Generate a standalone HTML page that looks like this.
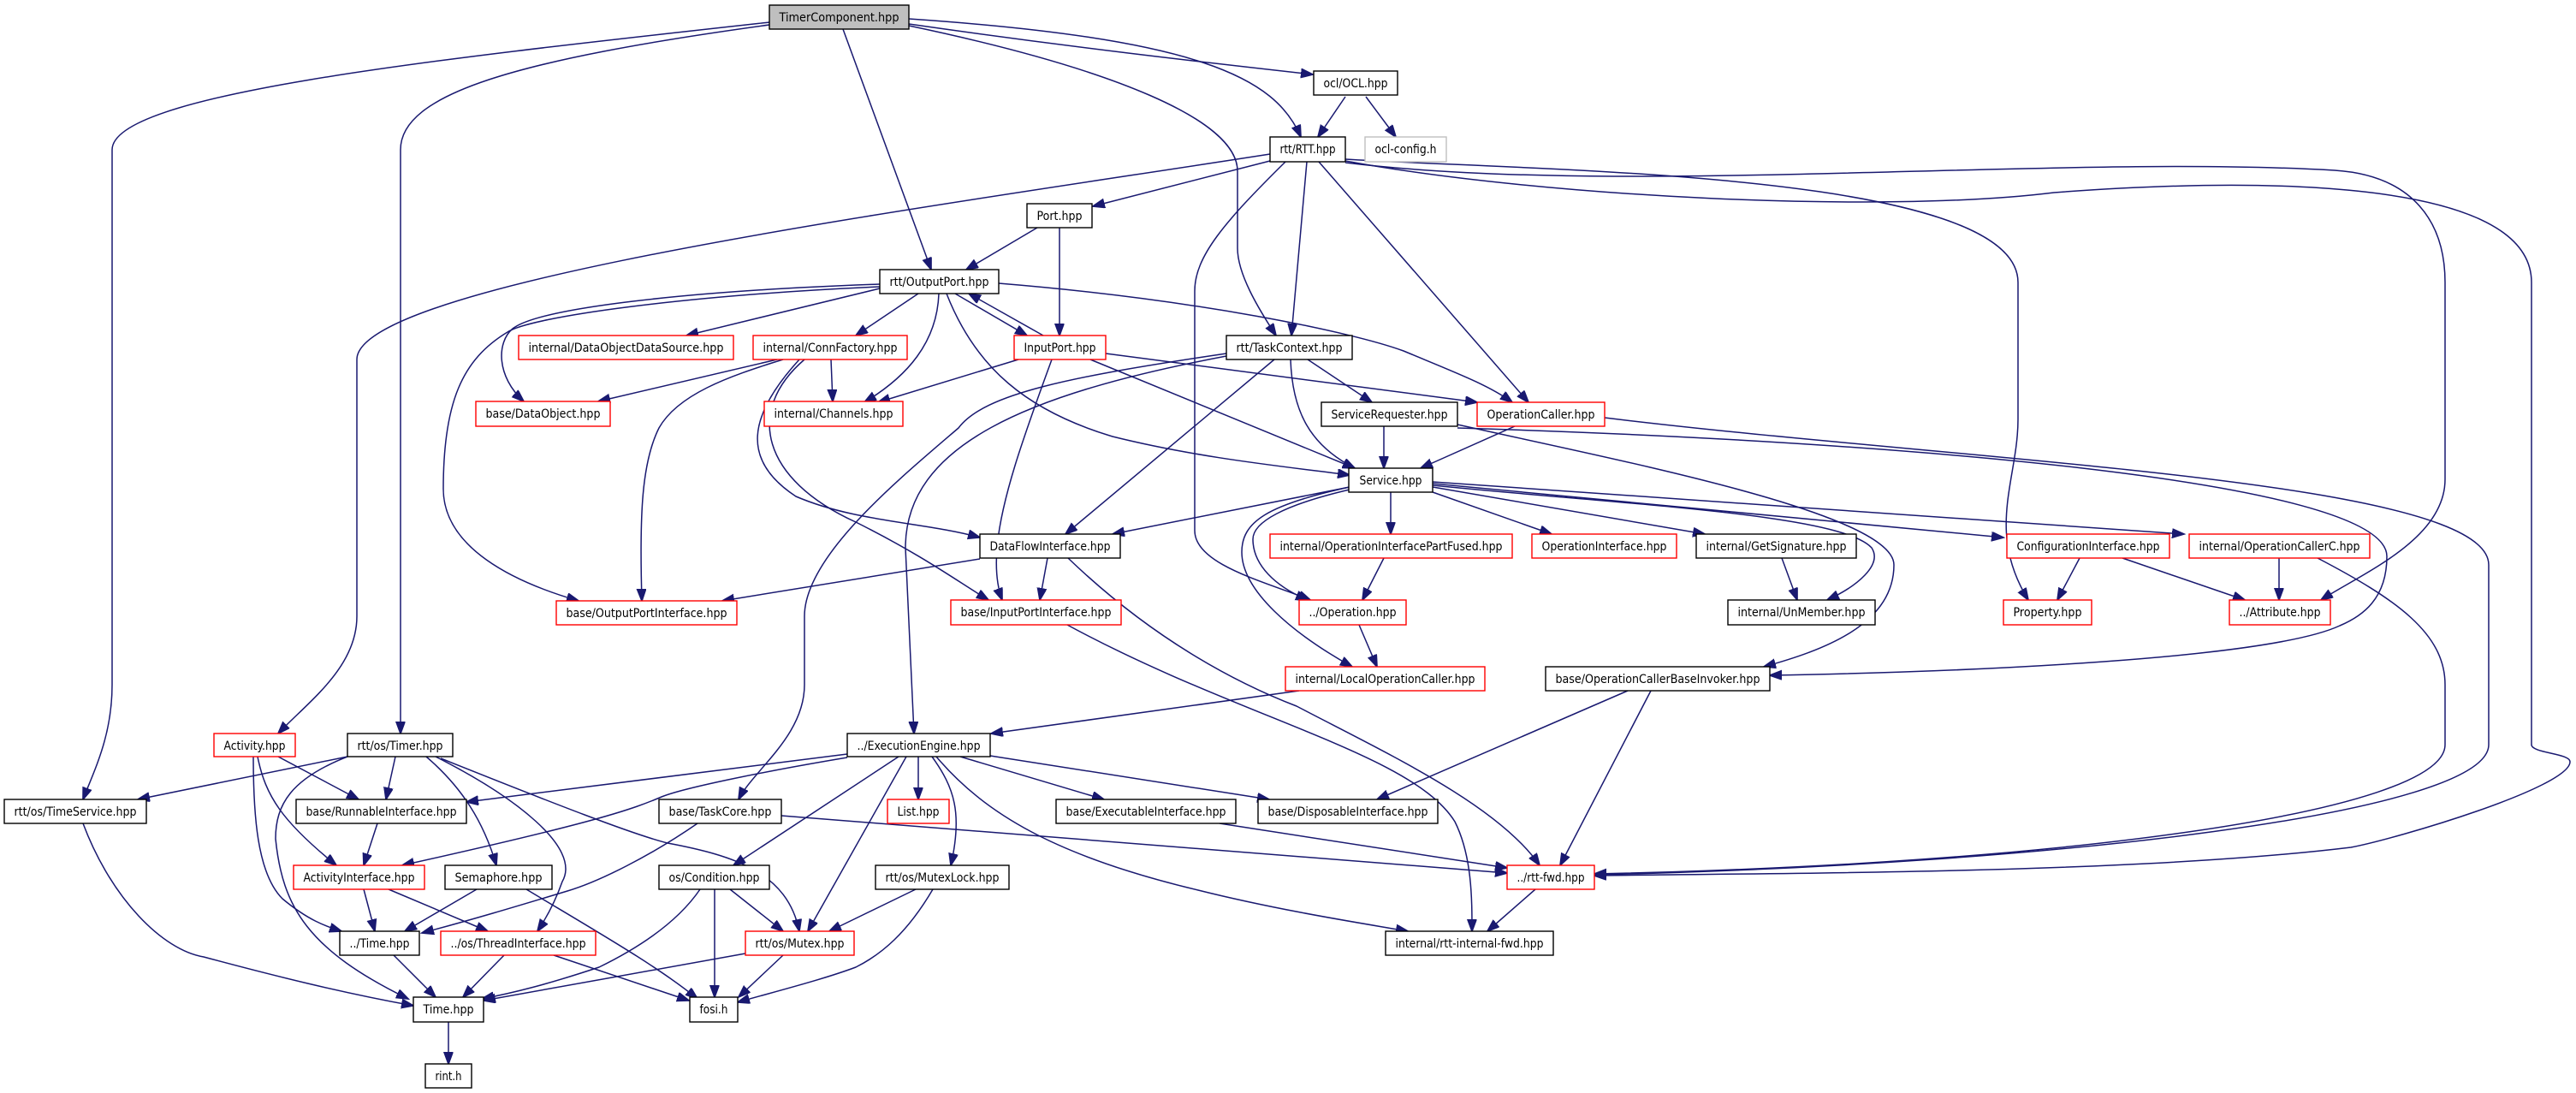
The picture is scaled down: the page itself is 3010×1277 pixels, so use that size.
<!DOCTYPE html>
<html><head><meta charset="utf-8"><style>
html,body{margin:0;padding:0;background:#fff;}
svg{display:block;}
text{font-family:"DejaVu Sans","Liberation Sans",sans-serif;font-size:14px;fill:#000;text-anchor:middle;}
.e{fill:none;stroke:#191970;stroke-width:1.5;marker-end:url(#a);}
.n rect{fill:#fff;stroke:#000;stroke-width:1.4;}
.r rect{fill:#fff;stroke:#ff0000;stroke-width:1.4;}
</style></head><body>
<svg width="3010" height="1277" viewBox="0 0 3010 1277" xmlns="http://www.w3.org/2000/svg">
<defs><marker id="a" markerUnits="userSpaceOnUse" markerWidth="16" markerHeight="12" refX="14" refY="5.5" orient="auto"><path d="M0,0 L15,5.5 L0,11 z" fill="#191970" stroke="#191970"/></marker></defs>
<g>
<path class="e" d="M899,26 C500,70 131,110 131,175 L131,800 C131,860 110,900 97,934"/>
<path class="e" d="M899,29 C600,70 468,110 468,175 L468,857"/>
<path class="e" d="M1484,180 C1100,240 417,330 417,420 L417,720 C417,780 360,820 325,857"/>
<path class="e" d="M985,34 L1088,315"/>
<path class="e" d="M1062,28 C1250,55 1400,72 1534,87"/>
<path class="e" d="M1062,22 C1400,45 1490,90 1520,160"/>
<path class="e" d="M1062,30 C1300,80 1446,140 1446,200 L1446,290 C1446,320 1470,360 1491,392"/>
<path class="e" d="M1572,113 L1540,160"/>
<path class="e" d="M1596,113 L1631,160"/>
<path class="e" d="M1484,188 L1277,241"/>
<path class="e" d="M1502,189 C1430,260 1396,300 1396,340 L1396,620 C1396,660 1480,680 1531,701"/>
<path class="e" d="M1527,189 L1509,392"/>
<path class="e" d="M1541,189 L1786,470"/>
<path class="e" d="M1572,186 C1800,200 2358,200 2358,330 L2358,490 C2358,560 2320,620 2370,701"/>
<path class="e" d="M1572,190 C1900,230 2400,180 2728,199 C2820,205 2857,260 2857,330 L2857,560 C2857,630 2760,670 2712,701"/>
<path class="e" d="M1572,188 C1800,230 2200,250 2400,225 C2600,210 2958,200 2958,330 L2958,870 C2958,880 3003,880 3003,890 C3003,920 2800,980 2747,990 C2500,1020 2100,1020 1863,1023"/>
<path class="e" d="M2708,652 C2800,700 2857,740 2857,800 L2857,870 C2857,950 2400,1010 1863,1021"/>
<path class="e" d="M1875,488 C2300,540 2908,560 2908,660 L2908,870 C2908,950 2400,1010 1863,1022"/>
<path class="e" d="M1703,496 C1900,540 2213,600 2213,660 C2213,730 2130,760 2061,779"/>
<path class="e" d="M1703,500 C2200,515 2789,560 2789,650 C2789,700 2760,720 2734,731 C2650,770 2300,785 2068,789"/>
<path class="e" d="M1212,266 L1129,315"/>
<path class="e" d="M1238,266 L1238,392"/>
<path class="e" d="M1028,337 L802,392"/>
<path class="e" d="M1073,343 L1000,392"/>
<path class="e" d="M1097,343 C1095,400 1060,440 1010,470"/>
<path class="e" d="M1116,343 L1200,392"/>
<path class="e" d="M1219,392 L1132,343"/>
<path class="e" d="M1106,343 C1140,430 1200,480 1300,510 C1400,535 1500,545 1577,555"/>
<path class="e" d="M1167,331 C1400,350 1580,388 1640,410 C1700,435 1740,450 1767,470"/>
<path class="e" d="M1028,332 C800,340 630,360 599,384 C580,400 580,440 612,469"/>
<path class="e" d="M1028,335 C800,345 620,370 593,388 C540,420 518,470 518,571 C518,640 600,680 676,702"/>
<path class="e" d="M908,420 L699,469"/>
<path class="e" d="M971,420 L973,469"/>
<path class="e" d="M915,420 C850,440 792,461 770,500 C750,540 747,600 750,702"/>
<path class="e" d="M934,420 C870,490 869,540 930,580 C1000,610 1080,610 1145,628"/>
<path class="e" d="M940,420 C870,480 890,560 1000,610 C1080,650 1120,680 1155,701"/>
<path class="e" d="M1190,420 L1026,470"/>
<path class="e" d="M1292,413 L1726,470"/>
<path class="e" d="M1274,420 L1583,547"/>
<path class="e" d="M1229,420 C1200,500 1170,580 1165,640 C1163,665 1165,685 1171,701"/>
<path class="e" d="M1528,420 L1603,470"/>
<path class="e" d="M1508,420 C1510,480 1530,520 1583,547"/>
<path class="e" d="M1489,420 L1245,624"/>
<path class="e" d="M1433,413 C1250,440 1150,460 1120,500 C1050,560 940,650 940,720 L940,800 C940,860 880,900 863,934"/>
<path class="e" d="M1433,416 C1200,460 1058,520 1058,640 L1068,857"/>
<path class="e" d="M1617,498 L1617,547"/>
<path class="e" d="M1770,498 L1660,547"/>
<path class="e" d="M1577,569 L1300,624"/>
<path class="e" d="M1625,575 L1625,624"/>
<path class="e" d="M1674,575 L1813,624"/>
<path class="e" d="M1674,569 L1992,624"/>
<path class="e" d="M1674,565 L2341,628"/>
<path class="e" d="M1674,563 L2552,624"/>
<path class="e" d="M1674,567 C1900,590 2150,600 2187,640 C2200,660 2170,685 2135,701"/>
<path class="e" d="M1577,572 C1500,590 1464,610 1464,630 C1464,660 1490,685 1528,701"/>
<path class="e" d="M1577,569 C1480,590 1451,610 1451,645 C1451,690 1510,740 1580,779"/>
<path class="e" d="M1617,652 L1592,701"/>
<path class="e" d="M1588,730 L1609,779"/>
<path class="e" d="M1518,807 L1158,857"/>
<path class="e" d="M1145,653 L844,702"/>
<path class="e" d="M1224,652 L1215,701"/>
<path class="e" d="M1248,652 C1350,750 1450,800 1515,825 C1620,880 1750,940 1799,1011"/>
<path class="e" d="M1247,730 C1450,840 1650,880 1700,960 C1720,1000 1720,1050 1720,1088"/>
<path class="e" d="M1902,807 L1609,934"/>
<path class="e" d="M1929,807 L1823,1011"/>
<path class="e" d="M1073,884 L1073,934"/>
<path class="e" d="M1122,884 L1290,934"/>
<path class="e" d="M1157,883 L1483,934"/>
<path class="e" d="M1089,884 C1115,920 1125,950 1111,1011"/>
<path class="e" d="M1094,884 C1150,950 1232,1000 1400,1040 C1500,1065 1600,1080 1645,1088"/>
<path class="e" d="M990,881 L545,937"/>
<path class="e" d="M990,885 C900,900 800,920 773,931 C740,945 700,960 470,1011"/>
<path class="e" d="M1050,884 L857,1011"/>
<path class="e" d="M1059,884 L944,1088"/>
<path class="e" d="M913,953 L1761,1020"/>
<path class="e" d="M815,962 C760,1000 700,1030 663,1041 C600,1060 550,1075 493,1090"/>
<path class="e" d="M1425,962 L1761,1014"/>
<path class="e" d="M1794,1039 L1738,1088"/>
<path class="e" d="M1070,1039 L969,1088"/>
<path class="e" d="M1090,1039 C1060,1090 1030,1115 1000,1130 C960,1145 900,1160 862,1171"/>
<path class="e" d="M325,884 L419,934"/>
<path class="e" d="M301,884 C310,930 330,960 393,1011"/>
<path class="e" d="M296,884 C296,950 300,1020 330,1050 C360,1075 380,1082 399,1088"/>
<path class="e" d="M406,884 L161,934"/>
<path class="e" d="M462,884 L451,934"/>
<path class="e" d="M498,884 C540,920 565,960 580,1011"/>
<path class="e" d="M509,884 C600,930 680,990 657,1030 C650,1050 640,1070 628,1088"/>
<path class="e" d="M515,886 C650,940 740,975 780,985 C860,1000 920,1020 934,1088"/>
<path class="e" d="M406,884 C340,910 322,940 322,980 C330,1060 360,1110 477,1167"/>
<path class="e" d="M97,962 C130,1050 190,1110 238,1118 C320,1140 400,1160 483,1175"/>
<path class="e" d="M441,962 L425,1011"/>
<path class="e" d="M425,1039 L438,1088"/>
<path class="e" d="M454,1039 L570,1088"/>
<path class="e" d="M557,1039 L473,1088"/>
<path class="e" d="M615,1039 C700,1090 770,1130 815,1167"/>
<path class="e" d="M818,1039 C790,1080 741,1110 700,1130 C640,1150 600,1160 563,1167"/>
<path class="e" d="M835,1039 L835,1165"/>
<path class="e" d="M853,1039 L915,1088"/>
<path class="e" d="M460,1116 L509,1165"/>
<path class="e" d="M589,1116 L541,1165"/>
<path class="e" d="M647,1116 L805,1169"/>
<path class="e" d="M871,1114 L565,1169"/>
<path class="e" d="M915,1116 L863,1165"/>
<path class="e" d="M524,1194 L524,1243"/>
<path class="e" d="M2663,652 L2663,701"/>
<path class="e" d="M2430,652 L2404,701"/>
<path class="e" d="M2480,652 L2623,701"/>
<path class="e" d="M2082,652 L2100,701"/>
</g>
<g>
<g><rect x="899" y="6" width="163" height="28" fill="#bfbfbf" stroke="#000" stroke-width="1.4"/><text x="980.5" y="25" textLength="140" lengthAdjust="spacingAndGlyphs">TimerComponent.hpp</text></g>
<g class="n"><rect x="1535" y="83" width="98" height="28"/><text x="1584" y="102" textLength="75" lengthAdjust="spacingAndGlyphs">ocl/OCL.hpp</text></g>
<g class="n"><rect x="1484" y="160" width="88" height="29"/><text x="1528" y="179" textLength="65" lengthAdjust="spacingAndGlyphs">rtt/RTT.hpp</text></g>
<g><rect x="1595" y="160" width="95" height="29" fill="#fff" stroke="#bfbfbf" stroke-width="1.4"/><text x="1642.5" y="179" textLength="72" lengthAdjust="spacingAndGlyphs">ocl-config.h</text></g>
<g class="n"><rect x="1200" y="238" width="76" height="28"/><text x="1238" y="257" textLength="53" lengthAdjust="spacingAndGlyphs">Port.hpp</text></g>
<g class="n"><rect x="1028" y="315" width="139" height="28"/><text x="1097.5" y="334" textLength="116" lengthAdjust="spacingAndGlyphs">rtt/OutputPort.hpp</text></g>
<g class="r"><rect x="606" y="392" width="251" height="28"/><text x="731.5" y="411" textLength="228" lengthAdjust="spacingAndGlyphs">internal/DataObjectDataSource.hpp</text></g>
<g class="r"><rect x="880" y="392" width="180" height="28"/><text x="970" y="411" textLength="157" lengthAdjust="spacingAndGlyphs">internal/ConnFactory.hpp</text></g>
<g class="r"><rect x="1185" y="392" width="107" height="28"/><text x="1238.5" y="411" textLength="84" lengthAdjust="spacingAndGlyphs">InputPort.hpp</text></g>
<g class="n"><rect x="1433" y="392" width="147" height="28"/><text x="1506.5" y="411" textLength="124" lengthAdjust="spacingAndGlyphs">rtt/TaskContext.hpp</text></g>
<g class="r"><rect x="556" y="469" width="157" height="29"/><text x="634.5" y="488" textLength="134" lengthAdjust="spacingAndGlyphs">base/DataObject.hpp</text></g>
<g class="r"><rect x="893" y="469" width="162" height="29"/><text x="974" y="488" textLength="139" lengthAdjust="spacingAndGlyphs">internal/Channels.hpp</text></g>
<g class="n"><rect x="1544" y="470" width="159" height="28"/><text x="1623.5" y="489" textLength="136" lengthAdjust="spacingAndGlyphs">ServiceRequester.hpp</text></g>
<g class="r"><rect x="1726" y="470" width="149" height="28"/><text x="1800.5" y="489" textLength="126" lengthAdjust="spacingAndGlyphs">OperationCaller.hpp</text></g>
<g class="n"><rect x="1576" y="547" width="98" height="28"/><text x="1625" y="566" textLength="73" lengthAdjust="spacingAndGlyphs">Service.hpp</text></g>
<g class="n"><rect x="1145" y="624" width="164" height="28"/><text x="1227" y="643" textLength="141" lengthAdjust="spacingAndGlyphs">DataFlowInterface.hpp</text></g>
<g class="r"><rect x="1484" y="624" width="283" height="28"/><text x="1625.5" y="643" textLength="260" lengthAdjust="spacingAndGlyphs">internal/OperationInterfacePartFused.hpp</text></g>
<g class="r"><rect x="1790" y="624" width="169" height="28"/><text x="1874.5" y="643" textLength="146" lengthAdjust="spacingAndGlyphs">OperationInterface.hpp</text></g>
<g class="n"><rect x="1982" y="624" width="187" height="28"/><text x="2075.5" y="643" textLength="164" lengthAdjust="spacingAndGlyphs">internal/GetSignature.hpp</text></g>
<g class="r"><rect x="2345" y="624" width="190" height="28"/><text x="2440" y="643" textLength="167" lengthAdjust="spacingAndGlyphs">ConfigurationInterface.hpp</text></g>
<g class="r"><rect x="2558" y="624" width="211" height="28"/><text x="2663.5" y="643" textLength="188" lengthAdjust="spacingAndGlyphs">internal/OperationCallerC.hpp</text></g>
<g class="r"><rect x="650" y="702" width="211" height="28"/><text x="755.5" y="721" textLength="188" lengthAdjust="spacingAndGlyphs">base/OutputPortInterface.hpp</text></g>
<g class="r"><rect x="1111" y="701" width="199" height="29"/><text x="1210.5" y="720" textLength="176" lengthAdjust="spacingAndGlyphs">base/InputPortInterface.hpp</text></g>
<g class="r"><rect x="1518" y="701" width="125" height="29"/><text x="1580.5" y="720" textLength="102" lengthAdjust="spacingAndGlyphs">../Operation.hpp</text></g>
<g class="n"><rect x="2019" y="701" width="172" height="29"/><text x="2105" y="720" textLength="149" lengthAdjust="spacingAndGlyphs">internal/UnMember.hpp</text></g>
<g class="r"><rect x="2341" y="701" width="103" height="29"/><text x="2392.5" y="720" textLength="80" lengthAdjust="spacingAndGlyphs">Property.hpp</text></g>
<g class="r"><rect x="2605" y="701" width="118" height="29"/><text x="2664" y="720" textLength="95" lengthAdjust="spacingAndGlyphs">../Attribute.hpp</text></g>
<g class="r"><rect x="1502" y="779" width="233" height="28"/><text x="1618.5" y="798" textLength="210" lengthAdjust="spacingAndGlyphs">internal/LocalOperationCaller.hpp</text></g>
<g class="n"><rect x="1806" y="779" width="262" height="28"/><text x="1937" y="798" textLength="239" lengthAdjust="spacingAndGlyphs">base/OperationCallerBaseInvoker.hpp</text></g>
<g class="r"><rect x="250" y="857" width="95" height="27"/><text x="297.5" y="876" textLength="72" lengthAdjust="spacingAndGlyphs">Activity.hpp</text></g>
<g class="n"><rect x="406" y="857" width="123" height="27"/><text x="467.5" y="876" textLength="100" lengthAdjust="spacingAndGlyphs">rtt/os/Timer.hpp</text></g>
<g class="n"><rect x="990" y="857" width="167" height="27"/><text x="1073.5" y="876" textLength="144" lengthAdjust="spacingAndGlyphs">../ExecutionEngine.hpp</text></g>
<g class="n"><rect x="5" y="934" width="166" height="28"/><text x="88" y="953" textLength="143" lengthAdjust="spacingAndGlyphs">rtt/os/TimeService.hpp</text></g>
<g class="n"><rect x="346" y="934" width="199" height="28"/><text x="445.5" y="953" textLength="176" lengthAdjust="spacingAndGlyphs">base/RunnableInterface.hpp</text></g>
<g class="n"><rect x="770" y="934" width="143" height="28"/><text x="841.5" y="953" textLength="120" lengthAdjust="spacingAndGlyphs">base/TaskCore.hpp</text></g>
<g class="r"><rect x="1037" y="934" width="72" height="28"/><text x="1073" y="953" textLength="49" lengthAdjust="spacingAndGlyphs">List.hpp</text></g>
<g class="n"><rect x="1234" y="934" width="210" height="28"/><text x="1339" y="953" textLength="187" lengthAdjust="spacingAndGlyphs">base/ExecutableInterface.hpp</text></g>
<g class="n"><rect x="1470" y="934" width="210" height="28"/><text x="1575" y="953" textLength="187" lengthAdjust="spacingAndGlyphs">base/DisposableInterface.hpp</text></g>
<g class="r"><rect x="343" y="1011" width="153" height="28"/><text x="419.5" y="1030" textLength="130" lengthAdjust="spacingAndGlyphs">ActivityInterface.hpp</text></g>
<g class="n"><rect x="520" y="1011" width="125" height="28"/><text x="582.5" y="1030" textLength="102" lengthAdjust="spacingAndGlyphs">Semaphore.hpp</text></g>
<g class="n"><rect x="770" y="1011" width="129" height="28"/><text x="834.5" y="1030" textLength="106" lengthAdjust="spacingAndGlyphs">os/Condition.hpp</text></g>
<g class="n"><rect x="1023" y="1011" width="156" height="28"/><text x="1101" y="1030" textLength="133" lengthAdjust="spacingAndGlyphs">rtt/os/MutexLock.hpp</text></g>
<g class="r"><rect x="1761" y="1011" width="102" height="28"/><text x="1812" y="1030" textLength="79" lengthAdjust="spacingAndGlyphs">../rtt-fwd.hpp</text></g>
<g class="n"><rect x="397" y="1088" width="93" height="28"/><text x="443.5" y="1107" textLength="70" lengthAdjust="spacingAndGlyphs">../Time.hpp</text></g>
<g class="r"><rect x="515" y="1088" width="181" height="28"/><text x="605.5" y="1107" textLength="158" lengthAdjust="spacingAndGlyphs">../os/ThreadInterface.hpp</text></g>
<g class="r"><rect x="871" y="1088" width="127" height="28"/><text x="934.5" y="1107" textLength="104" lengthAdjust="spacingAndGlyphs">rtt/os/Mutex.hpp</text></g>
<g class="n"><rect x="1619" y="1088" width="196" height="28"/><text x="1717" y="1107" textLength="173" lengthAdjust="spacingAndGlyphs">internal/rtt-internal-fwd.hpp</text></g>
<g class="n"><rect x="483" y="1165" width="82" height="29"/><text x="524" y="1184" textLength="59" lengthAdjust="spacingAndGlyphs">Time.hpp</text></g>
<g class="n"><rect x="806" y="1165" width="56" height="29"/><text x="834" y="1184" textLength="33" lengthAdjust="spacingAndGlyphs">fosi.h</text></g>
<g class="n"><rect x="497" y="1243" width="54" height="28"/><text x="524" y="1262" textLength="31" lengthAdjust="spacingAndGlyphs">rint.h</text></g>
</g>
</svg>
</body></html>
